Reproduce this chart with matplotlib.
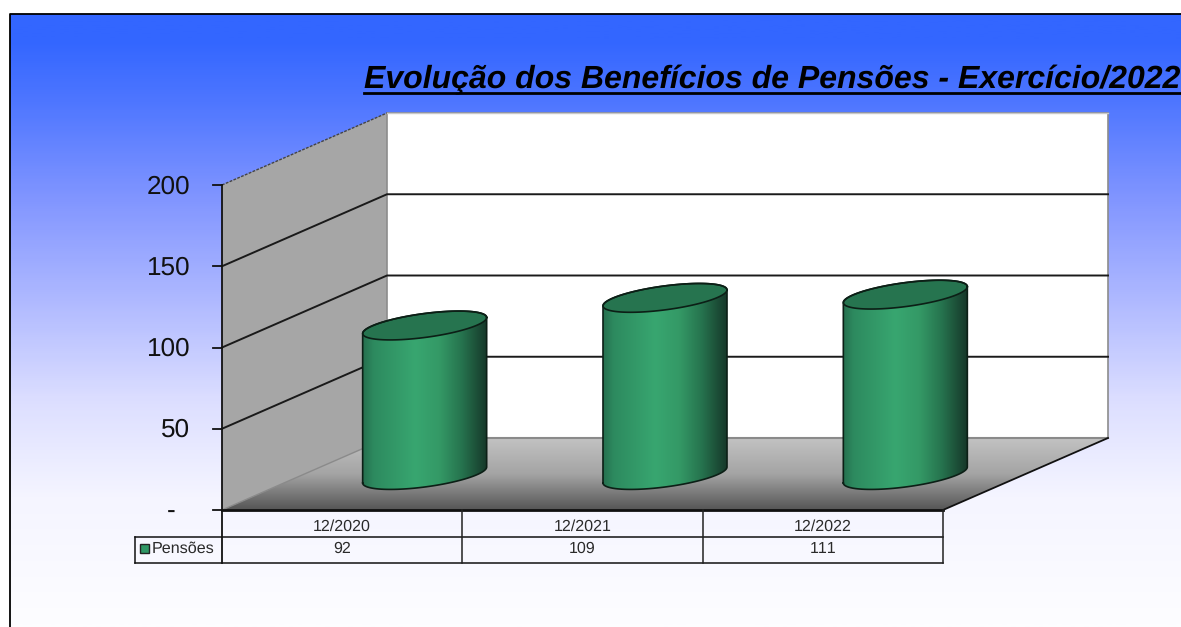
import matplotlib
matplotlib.use('Agg')
import matplotlib.pyplot as plt
import numpy as np
from matplotlib.colors import LinearSegmentedColormap
from matplotlib.patches import Polygon

# Data
categorias = ['12/2020', '12/2021', '12/2022']
pensoes = [92, 109, 111]
serie = 'Pensões'
titulo = 'Evolução dos Benefícios de Pensões - Exercício/2022'
ticks_y = [0, 50, 100, 150, 200]
labels_y = ['-  ', '50', '100', '150', '200']

W, H = 1181, 627
X0, Y0 = 222, 510       # pixel of category 0 / value 0
CAT_W = 721 / 3
VAL_H = 1.625


# pixel position -> data position, only for the layout of the frame
def px(x):
    return (x - X0) / CAT_W


def py(y):
    return (Y0 - y) / VAL_H


n = len(categorias)
vmax = ticks_y[-1]
dx = 165 / CAT_W        # oblique depth of the 3D box
dy = 72 / VAL_H

plt.rcParams['font.family'] = ['Liberation Sans', 'DejaVu Sans']
plt.rcParams['text.hinting'] = 'no_hinting'
plt.rcParams['text.kerning_factor'] = 6
fig = plt.figure(figsize=(W / 100, H / 100), dpi=100, facecolor='white')
ax = fig.add_axes([0, 0, 1, 1])
ax.axis('off')

# Background gradient, blue to white
fundo = LinearSegmentedColormap.from_list('fundo', [
    (0.0, '#3366ff'), (0.04, '#3366ff'), (0.14, '#4e76ff'), (0.303, '#8296ff'), (0.467, '#afb9ff'),
    (0.63, '#dcdeff'), (0.79, '#f5f5ff'), (1.0, '#fdfdff')])
ax.imshow(np.linspace(0, 1, 300).reshape(-1, 1), cmap=fundo, aspect='auto', zorder=0,
          extent=[px(10), px(W), py(H), py(14)], origin='upper')
ax.plot([px(10), px(10), px(W)], [py(H), py(14), py(14)], color='black', lw=1.3, zorder=1)

# Left wall and back wall
ax.add_patch(Polygon([(0, 0), (0, vmax), (dx, vmax + dy), (dx, dy)], fc='#a6a6a6', ec='none', zorder=2))
ax.add_patch(Polygon([(dx, dy), (dx, vmax + dy), (n + dx, vmax + dy), (n + dx, dy)],
                     fc='white', ec='#8c8c8c', lw=1.2, zorder=2))
ax.plot([0, dx], [vmax, vmax + dy], color='#444444', lw=1, ls=(0, (2, 1)), zorder=3)

# Floor
piso = LinearSegmentedColormap.from_list('piso', ['#c2c2c2', '#a4a4a4', '#565656'])
poly_piso = Polygon([(0, 0), (dx, dy), (n + dx, dy), (n, 0)], transform=ax.transData, fc='none', ec='none')
img = ax.imshow(np.linspace(0, 1, 100).reshape(-1, 1), cmap=piso, aspect='auto', zorder=2.5,
                extent=[0, n + dx, 0, dy], origin='upper')
img.set_clip_path(poly_piso)
ax.plot([0, dx], [0, dy], color='#8a8a8a', lw=1, zorder=3)
ax.plot([dx, n + dx], [dy, dy], color='#8a8a8a', lw=1.5, zorder=3)
ax.plot([n, n + dx], [0, dy], color='#111111', lw=1.3, zorder=3)

# Gridlines on the walls
for v in ticks_y[1:-1]:
    ax.plot([0, dx, n + dx], [v, v + dy, v + dy], color='#1a1a1a', lw=1.4, zorder=3)
top = vmax + dy
ax.plot([dx, n + dx], [top, top], color='#c8c8c8', lw=1, zorder=3)

# Cylinders
corpo = LinearSegmentedColormap.from_list('corpo', [
    (0.0, '#26704f'), (0.08, '#2d8a5f'), (0.42, '#38a670'), (0.62, '#349966'),
    (0.80, '#26734e'), (1.0, '#16392a')])
cx_off = 82.5 / CAT_W
a = 62 / CAT_W
b = 12 / VAL_H
shear = 8 / VAL_H
base = 35 / VAL_H


def elipse(cx, cy, t):
    return cx + a * np.cos(t), cy + b * np.sin(t) + shear * np.cos(t)


for i, val in enumerate(pensoes):
    cx = i + 0.5 + cx_off
    yb = base
    yt = base + val
    # outline: lower half of the base, then upper half of the top
    xs1, ys1 = elipse(cx, yb, np.linspace(np.pi, 2 * np.pi, 60))
    xs2, ys2 = elipse(cx, yt, np.linspace(0, np.pi, 60))
    pts = np.column_stack([np.r_[xs1, xs2], np.r_[ys1, ys2]])
    p = Polygon(pts, transform=ax.transData, fc='none', ec='none')
    im = ax.imshow(np.linspace(0, 1, 128).reshape(1, -1), cmap=corpo, aspect='auto', zorder=4,
                   extent=[cx - a, cx + a, yb - 30, yt + 30])
    im.set_clip_path(p)
    # top face
    tt = np.linspace(0, 2 * np.pi, 120)
    xe, ye = elipse(cx, yt, tt)
    ax.fill(xe, ye, fc='#26744f', ec='none', zorder=5)
    ax.plot(xe, ye, color='#0c1f16', lw=1.2, zorder=6)
    ax.plot(np.r_[xs1, xs2, xs1[0]], np.r_[ys1, ys2, ys1[0]], color='#0c1f16', lw=1.2, zorder=6)

# Y axis with ticks and labels
ax.plot([0, 0], [py(563), vmax], color='#111111', lw=1.3, zorder=7)
for v, lab in zip(ticks_y, labels_y):
    ax.plot([px(213), 0], [v, v], color='#111111', lw=1.3, zorder=7)
    ax.text(px(190), v - 1, lab, ha='right', va='center', fontsize=18.8, color='#111111', zorder=8)

# Data table
y1, y2, y3 = py(510), py(537), py(563)
ax.plot([0, n], [y1, y1], color='#111111', lw=2, zorder=7)
ax.plot([px(135), n], [y2, y2], color='#111111', lw=1.1, zorder=7)
ax.plot([px(135), n], [y3, y3], color='#111111', lw=1.1, zorder=7)
ax.plot([px(135), px(135)], [y2, y3], color='#111111', lw=1.1, zorder=7)
for j in range(1, n + 1):
    ax.plot([j, j], [y1, y3], color='#222222', lw=1.1, zorder=7)
for i, (cat, val) in enumerate(zip(categorias, pensoes)):
    ax.text(i + 0.5, py(526.5), cat, ha='center', va='center', fontsize=11.5, color='#2a2a2a', zorder=8)
    ax.text(i + 0.5, py(549), str(val), ha='center', va='center', fontsize=11.5, color='#2a2a2a', zorder=8)
ax.add_patch(Polygon([(px(140), py(544)), (px(149), py(544)), (px(149), py(553)), (px(140), py(553))],
                     fc='#2f9765', ec='#222222', lw=1, zorder=8))
ax.text(px(151.5), py(549), serie, ha='left', va='center', fontsize=11.6, color='#2a2a2a', zorder=8)

# Title, underline drawn under the text
ax.text(px(364), py(88), titulo, ha='left', va='baseline', fontsize=23, fontweight='bold',
        fontstyle='italic', color='black', zorder=8)
ax.plot([px(364), px(W)], [py(93), py(93)], color='black', lw=2, zorder=8)

ax.set_xlim(px(0), px(W))
ax.set_ylim(py(H), py(0))
fig.savefig('out.png', dpi=100, facecolor='white')
